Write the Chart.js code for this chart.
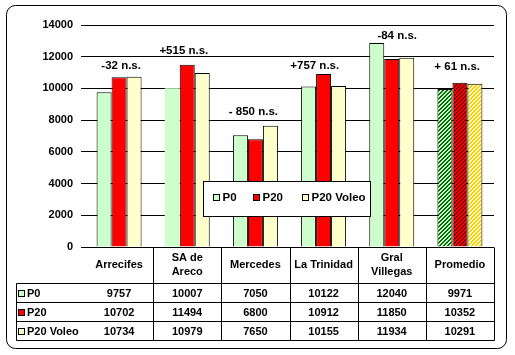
<!DOCTYPE html>
<html><head><meta charset="utf-8">
<script src="https://cdn.jsdelivr.net/npm/chart.js@4/dist/chart.umd.min.js"></script>
<style>html,body{margin:0;padding:0;background:#fff;} canvas{display:block;}</style>
</head><body>
<canvas id="c" width="515" height="355"></canvas>
<script>
const categories = ["Arrecifes", ["SA de", "Areco"], "Mercedes", "La Trinidad", ["Gral", "Villegas"], "Promedio"];
const seriesNames = ["P0", "P20", "P20 Voleo"];
const p0 = [9757, 10007, 7050, 10122, 12860, 9971];
const p20 = [10702, 11494, 6800, 10912, 11850, 10352];
const p20Voleo = [10734, 10979, 7650, 10155, 11934, 10291];
const tableP0 = ["9757", "10007", "7050", "10122", "12040", "9971"];
const tableP20 = ["10702", "11494", "6800", "10912", "11850", "10352"];
const tableP20Voleo = ["10734", "10979", "7650", "10155", "11934", "10291"];
const diffLabels = ["-32 n.s.", "+515 n.s.", "- 850 n.s.", "+757 n.s.", "-84 n.s.", "+ 61 n.s."];
const diffLabelY = [11400, 12400, 8500, 11400, 13300, 11350];
const diffLabelShift = [0.03, -0.05, -0.03, -0.13, 0.08, -0.04];
const yTickLabels = ["0", "2000", "4000", "6000", "8000", "10000", "12000", "14000"];

const FONT = '"Liberation Sans", Arial, sans-serif';
const fills = ["#CCFFCC", "#FF0000", "#FFFFCC"];
const hatchFg = ["#007000", "#800000", "#FFCC00"];

const canvas = document.getElementById('c');
const ctx = canvas.getContext('2d');

function makePattern(bg, fg) {
  const c = document.createElement('canvas');
  c.width = 4; c.height = 4;
  const g = c.getContext('2d');
  g.fillStyle = bg; g.fillRect(0, 0, 4, 4);
  g.fillStyle = fg;
  for (let y = 0; y < 4; y++) for (let x = 0; x < 4; x++) if ((x + y) % 4 < 2) g.fillRect(x, y, 1, 1);
  return ctx.createPattern(c, 'repeat');
}
function colorsFor(k) {
  return categories.map((_, i) => i === categories.length - 1 ? makePattern(fills[k], hatchFg[k]) : fills[k]);
}

const tableRows = [tableP0, tableP20, tableP20Voleo];

const decor = {
  id: 'decor',
  beforeDraw(chart) {
    const g = chart.ctx;
    g.save();
    g.fillStyle = '#fff';
    g.fillRect(0, 0, chart.width, chart.height);
    g.strokeStyle = '#000'; g.lineWidth = 1;
    g.beginPath();
    g.roundRect(6.5, 5.5, 500, 343, 9);
    g.stroke();
    g.restore();
  },
  afterDraw(chart) {
    const g = chart.ctx;
    const xs = chart.scales.x, ys = chart.scales.y, ca = chart.chartArea;
    const catW = (ca.right - ca.left) / categories.length;
    g.save();
    g.fillStyle = '#000';
    // difference annotations
    g.font = 'bold 11.5px ' + FONT;
    g.textAlign = 'center'; g.textBaseline = 'middle';
    diffLabels.forEach((t, i) => {
      g.fillText(t, xs.getPixelForValue(i) + diffLabelShift[i] * catW, ys.getPixelForValue(diffLabelY[i]));
    });
    // legend box
    const lx = 203.5, ly = 181.5, lw = 167, lh = 35;
    g.fillStyle = '#fff'; g.fillRect(lx, ly, lw, lh);
    g.strokeStyle = '#000'; g.lineWidth = 1; g.strokeRect(lx, ly, lw, lh);
    const legX = [213.5, 253.5, 302.5];
    seriesNames.forEach((n, k) => {
      g.fillStyle = fills[k]; g.fillRect(legX[k], 194.5, 6, 6);
      g.strokeRect(legX[k], 194.5, 6, 6);
      g.fillStyle = '#000'; g.textAlign = 'left';
      g.fillText(n, legX[k] + 9, 198);
    });
    // table
    const top = Math.round(ca.bottom) + 0.5;
    const hdrB = top + 35, rowH = 19.3;
    const rowYs = [hdrB, hdrB + rowH, hdrB + 2 * rowH, hdrB + 3 * rowH].map(v => Math.round(v) + 0.5);
    const left = 16.5, right = Math.round(ca.right) + 0.5;
    g.strokeStyle = '#000'; g.lineWidth = 1;
    g.beginPath();
    rowYs.forEach(y => { g.moveTo(left, y); g.lineTo(right, y); });
    for (let i = 1; i <= categories.length; i++) {
      const x = Math.round(ca.left + i * catW) + 0.5;
      g.moveTo(x, top); g.lineTo(x, rowYs[3]);
    }
    g.moveTo(left, rowYs[0]); g.lineTo(left, rowYs[3]);
    g.stroke();
    g.font = 'bold 11px ' + FONT;
    g.textAlign = 'center'; g.textBaseline = 'middle';
    const hdrMid = (top + hdrB) / 2;
    categories.forEach((c, i) => {
      const cx = xs.getPixelForValue(i);
      const lines = Array.isArray(c) ? c : [c];
      lines.forEach((ln, j) => g.fillText(ln, cx, hdrMid + (j - (lines.length - 1) / 2) * 14));
    });
    tableRows.forEach((row, r) => {
      const cy = (rowYs[r] + rowYs[r + 1]) / 2 + 0.5;
      row.forEach((v, i) => { g.textAlign = 'center'; g.fillText(v, xs.getPixelForValue(i), cy); });
      g.fillStyle = fills[r]; g.fillRect(18.5, Math.round(cy) - 3.5, 6, 6);
      g.strokeRect(18.5, Math.round(cy) - 3.5, 6, 6);
      g.fillStyle = '#000'; g.textAlign = 'left';
      g.fillText(seriesNames[r], 27, cy);
    });
    g.restore();
  }
};

new Chart(canvas, {
  type: 'bar',
  data: {
    labels: categories,
    datasets: [
      { label: seriesNames[0], data: p0, backgroundColor: colorsFor(0), borderColor: '#000', borderWidth: [1, 0, 1, 1, 1, 1] },
      { label: seriesNames[1], data: p20, backgroundColor: colorsFor(1), borderColor: '#000', borderWidth: 1 },
      { label: seriesNames[2], data: p20Voleo, backgroundColor: colorsFor(2), borderColor: '#000', borderWidth: 1 }
    ]
  },
  options: {
    responsive: false,
    animation: false,
    devicePixelRatio: 1,
    categoryPercentage: 0.66,
    barPercentage: 1,
    layout: { padding: { left: 0, right: 21, top: 25, bottom: 108 } },
    plugins: { legend: { display: false }, tooltip: { enabled: false } },
    scales: {
      x: { display: false },
      y: {
        min: 0, max: 14000,
        afterFit(s) { s.width = 85; },
        border: { display: false },
        grid: { color: '#000', lineWidth: 1, tickLength: 4, drawTicks: true },
        ticks: {
          stepSize: 2000, padding: 8, color: '#000',
          font: { family: FONT, size: 11, weight: 'bold' },
          callback: (v) => yTickLabels[yTickLabels.indexOf(String(v))] ?? v
        }
      }
    }
  },
  plugins: [decor]
});
</script>
</body></html>
